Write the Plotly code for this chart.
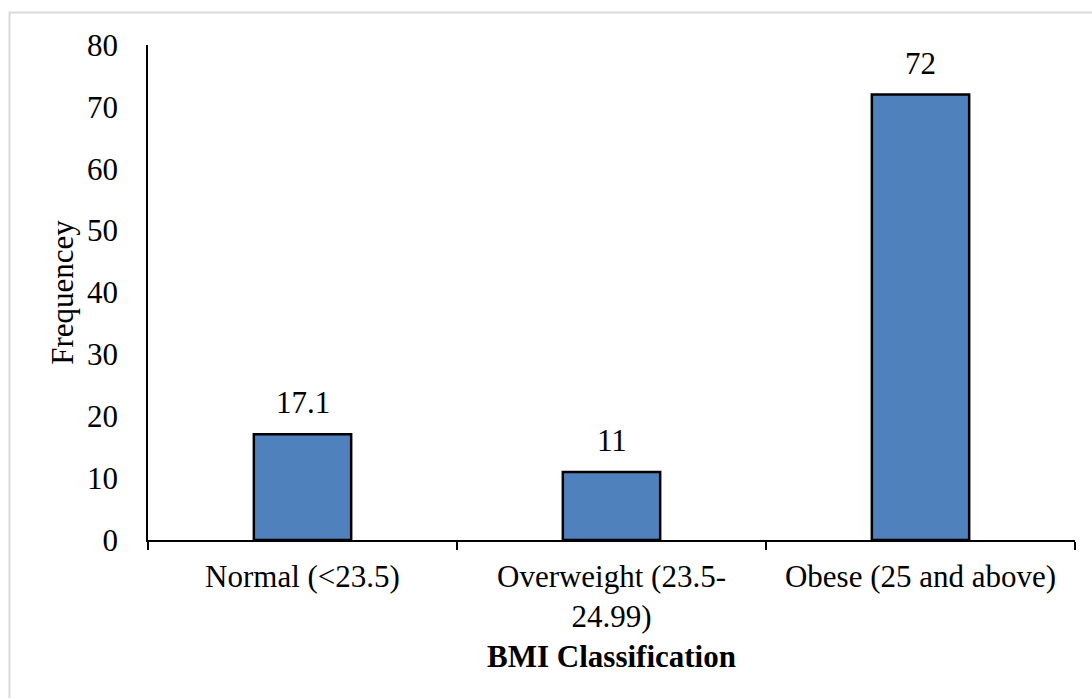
import plotly.graph_objects as go

categories = ["Normal (<23.5)", "Overweight (23.5-<br>24.99)", "Obese (25 and above)"]
values = [17.1, 11, 72]
value_labels = ["17.1", "11", "72"]
y_ticks = [0, 10, 20, 30, 40, 50, 60, 70, 80]

FONT = "Liberation Serif, Times New Roman, serif"

fig = go.Figure()
fig.add_trace(go.Bar(
    x=categories, y=values,
    marker=dict(color="#4F81BD", line=dict(color="#000000", width=2.5)),
    width=0.315,
))

for c, v, t in zip(categories, values, value_labels):
    fig.add_annotation(x=c, y=v, text=t, showarrow=False, yanchor="bottom",
                       yshift=12, font=dict(family=FONT, size=31, color="#000"))

fig.update_layout(
    width=1092, height=698,
    margin=dict(l=148, r=17, t=45, b=158),
    paper_bgcolor="white", plot_bgcolor="white",
    showlegend=False,
    font=dict(family=FONT, size=31, color="#000"),
    xaxis=dict(
        showline=True, linecolor="#000", linewidth=1.5,
        ticks="outside", tickson="boundaries", ticklen=8, tickcolor="#000", tickwidth=1.5,
        showgrid=False,
        ticklabelstandoff=8,
        tickfont=dict(family=FONT, size=31, color="#000"),
        title=dict(text="<b>BMI Classification</b>", font=dict(family=FONT, size=31, color="#000"), standoff=12),
    ),
    yaxis=dict(
        range=[0, 80], tickvals=y_ticks,
        showline=True, linecolor="#000", linewidth=1.5,
        ticks="", showgrid=False, zeroline=False,
        ticklabelstandoff=22,
        tickfont=dict(family=FONT, size=31, color="#000"),
        title=dict(text="Frequencey", font=dict(family=FONT, size=31, color="#000"), standoff=4),
    ),
    shapes=[dict(type="rect", xref="paper", yref="paper",
                 x0=(9.5 - 148) / 927, x1=(1110 - 148) / 927,
                 y0=(540 - 720) / 495, y1=(540 - 12.5) / 495,
                 line=dict(color="#D9D9D9", width=2), layer="below")],
)

fig.write_html("out.html")
